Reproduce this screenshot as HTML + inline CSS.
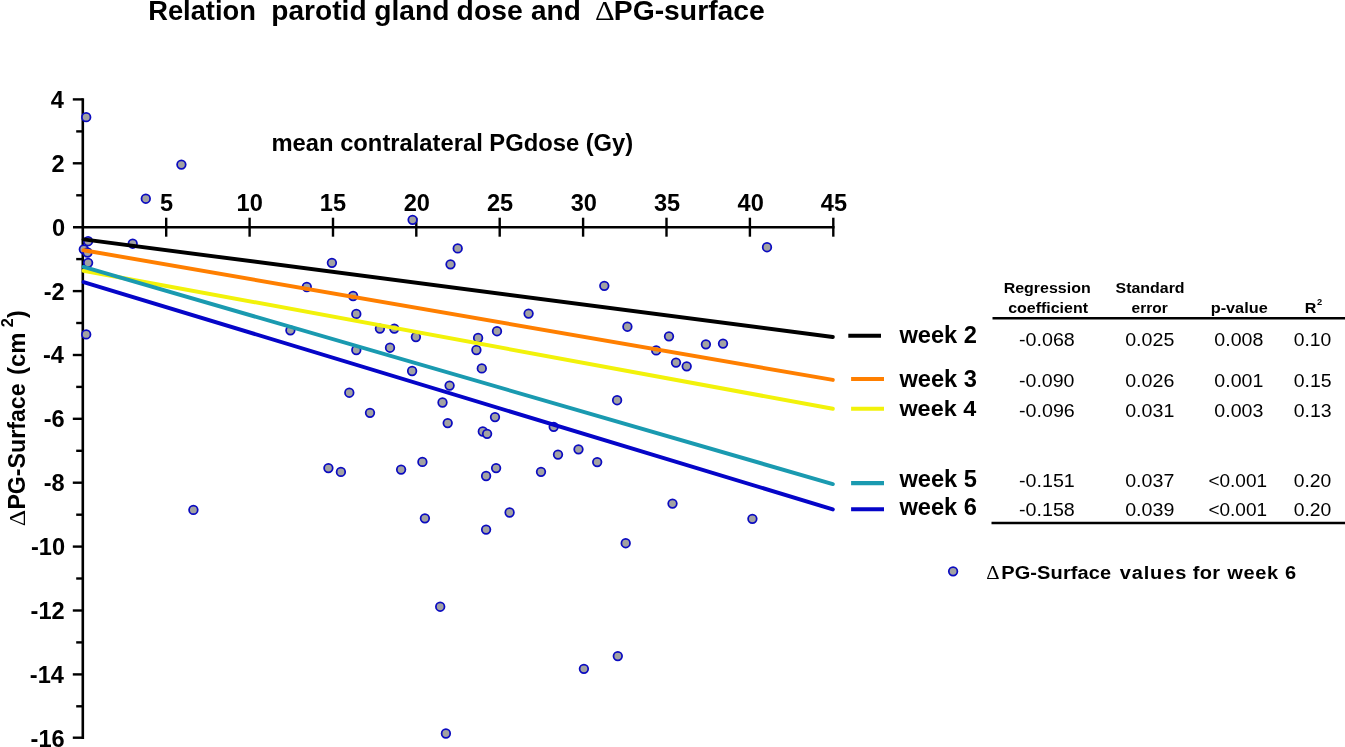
<!DOCTYPE html>
<html><head><meta charset="utf-8"><title>Relation parotid gland dose and PG-surface</title>
<style>
html,body{margin:0;padding:0;background:#fff;}
body{width:1345px;height:747px;overflow:hidden;font-family:"Liberation Sans",sans-serif;}
svg{display:block;position:absolute;left:0;top:0;will-change:transform;}
text{font-family:"Liberation Sans",sans-serif;font-weight:bold;fill:#000;}
.sym{font-family:"Liberation Serif",serif;font-weight:normal;}
.n{font-weight:normal;}
.ax{stroke:#000;stroke-width:2.6;fill:none;}
.tk{stroke:#000;stroke-width:2.4;fill:none;}
.pt{fill:#a2a2a2;stroke:#0b0bc0;stroke-width:1.75;}
.rl{fill:none;stroke-width:3.95;stroke-linecap:round;}
</style></head><body>
<svg width="1345" height="747" viewBox="0 0 1345 747">
<rect x="0" y="0" width="1345" height="747" fill="#ffffff"/>
<g id="axes">
<line class="ax" x1="82.8" y1="98.2" x2="82.8" y2="738.9"/>
<line class="ax" x1="73.0" y1="227.2" x2="834.5" y2="227.2"/>
<line class="tk" x1="72.8" y1="99.4" x2="82.8" y2="99.4"/>
<line class="tk" x1="76.2" y1="131.4" x2="82.8" y2="131.4"/>
<line class="tk" x1="72.8" y1="163.3" x2="82.8" y2="163.3"/>
<line class="tk" x1="76.2" y1="195.3" x2="82.8" y2="195.3"/>
<line class="tk" x1="76.2" y1="259.1" x2="82.8" y2="259.1"/>
<line class="tk" x1="72.8" y1="291.1" x2="82.8" y2="291.1"/>
<line class="tk" x1="76.2" y1="323.0" x2="82.8" y2="323.0"/>
<line class="tk" x1="72.8" y1="355.0" x2="82.8" y2="355.0"/>
<line class="tk" x1="76.2" y1="386.9" x2="82.8" y2="386.9"/>
<line class="tk" x1="72.8" y1="418.8" x2="82.8" y2="418.8"/>
<line class="tk" x1="76.2" y1="450.8" x2="82.8" y2="450.8"/>
<line class="tk" x1="72.8" y1="482.7" x2="82.8" y2="482.7"/>
<line class="tk" x1="76.2" y1="514.7" x2="82.8" y2="514.7"/>
<line class="tk" x1="72.8" y1="546.6" x2="82.8" y2="546.6"/>
<line class="tk" x1="76.2" y1="578.5" x2="82.8" y2="578.5"/>
<line class="tk" x1="72.8" y1="610.5" x2="82.8" y2="610.5"/>
<line class="tk" x1="76.2" y1="642.4" x2="82.8" y2="642.4"/>
<line class="tk" x1="72.8" y1="674.4" x2="82.8" y2="674.4"/>
<line class="tk" x1="76.2" y1="706.3" x2="82.8" y2="706.3"/>
<line class="tk" x1="72.8" y1="737.7" x2="82.8" y2="737.7"/>
<line class="tk" x1="166.2" y1="217.7" x2="166.2" y2="236.7"/>
<line class="tk" x1="249.6" y1="217.7" x2="249.6" y2="236.7"/>
<line class="tk" x1="333.0" y1="217.7" x2="333.0" y2="236.7"/>
<line class="tk" x1="416.3" y1="217.7" x2="416.3" y2="236.7"/>
<line class="tk" x1="499.7" y1="217.7" x2="499.7" y2="236.7"/>
<line class="tk" x1="583.1" y1="217.7" x2="583.1" y2="236.7"/>
<line class="tk" x1="666.5" y1="217.7" x2="666.5" y2="236.7"/>
<line class="tk" x1="749.9" y1="217.7" x2="749.9" y2="236.7"/>
<line class="tk" x1="833.3" y1="217.7" x2="833.3" y2="236.7"/>
</g>
<g id="points" class="pt">
<circle cx="86.2" cy="117.2" r="4.3"/>
<circle cx="181.4" cy="164.6" r="4.3"/>
<circle cx="145.8" cy="198.7" r="4.3"/>
<circle cx="412.6" cy="219.8" r="4.3"/>
<circle cx="88.1" cy="241.2" r="4.3"/>
<circle cx="132.7" cy="243.7" r="4.3"/>
<circle cx="83.8" cy="249.3" r="4.3"/>
<circle cx="87.5" cy="252.5" r="4.3"/>
<circle cx="88.1" cy="262.8" r="4.3"/>
<circle cx="86.2" cy="334.4" r="4.3"/>
<circle cx="290.4" cy="330.3" r="4.3"/>
<circle cx="306.8" cy="287.0" r="4.3"/>
<circle cx="457.7" cy="248.4" r="4.3"/>
<circle cx="450.5" cy="264.3" r="4.3"/>
<circle cx="331.9" cy="262.8" r="4.3"/>
<circle cx="353.1" cy="296.0" r="4.3"/>
<circle cx="356.3" cy="313.9" r="4.3"/>
<circle cx="379.9" cy="328.6" r="4.3"/>
<circle cx="394.3" cy="328.6" r="4.3"/>
<circle cx="415.9" cy="337.0" r="4.3"/>
<circle cx="478.1" cy="338.0" r="4.3"/>
<circle cx="497.0" cy="331.2" r="4.3"/>
<circle cx="528.6" cy="313.6" r="4.3"/>
<circle cx="476.4" cy="350.0" r="4.3"/>
<circle cx="390.0" cy="347.7" r="4.3"/>
<circle cx="356.3" cy="350.0" r="4.3"/>
<circle cx="412.1" cy="371.0" r="4.3"/>
<circle cx="481.8" cy="368.4" r="4.3"/>
<circle cx="449.6" cy="385.6" r="4.3"/>
<circle cx="349.3" cy="392.7" r="4.3"/>
<circle cx="442.5" cy="402.5" r="4.3"/>
<circle cx="370.0" cy="412.8" r="4.3"/>
<circle cx="495.0" cy="417.1" r="4.3"/>
<circle cx="447.7" cy="423.1" r="4.3"/>
<circle cx="482.8" cy="431.5" r="4.3"/>
<circle cx="487.1" cy="433.8" r="4.3"/>
<circle cx="328.4" cy="468.1" r="4.3"/>
<circle cx="340.9" cy="471.9" r="4.3"/>
<circle cx="401.1" cy="469.6" r="4.3"/>
<circle cx="422.4" cy="461.9" r="4.3"/>
<circle cx="496.1" cy="468.1" r="4.3"/>
<circle cx="486.1" cy="476.0" r="4.3"/>
<circle cx="424.9" cy="518.3" r="4.3"/>
<circle cx="509.6" cy="512.5" r="4.3"/>
<circle cx="486.1" cy="529.6" r="4.3"/>
<circle cx="440.2" cy="606.7" r="4.3"/>
<circle cx="445.9" cy="733.5" r="4.3"/>
<circle cx="767.0" cy="247.2" r="4.3"/>
<circle cx="604.3" cy="285.8" r="4.3"/>
<circle cx="627.4" cy="326.7" r="4.3"/>
<circle cx="669.0" cy="336.3" r="4.3"/>
<circle cx="656.2" cy="350.4" r="4.3"/>
<circle cx="705.9" cy="344.3" r="4.3"/>
<circle cx="723.0" cy="343.6" r="4.3"/>
<circle cx="676.0" cy="362.6" r="4.3"/>
<circle cx="686.7" cy="366.3" r="4.3"/>
<circle cx="617.1" cy="400.2" r="4.3"/>
<circle cx="553.7" cy="426.8" r="4.3"/>
<circle cx="578.5" cy="449.3" r="4.3"/>
<circle cx="558.0" cy="454.6" r="4.3"/>
<circle cx="597.2" cy="462.1" r="4.3"/>
<circle cx="541.0" cy="471.8" r="4.3"/>
<circle cx="672.5" cy="503.6" r="4.3"/>
<circle cx="752.4" cy="518.8" r="4.3"/>
<circle cx="625.7" cy="543.2" r="4.3"/>
<circle cx="617.8" cy="656.1" r="4.3"/>
<circle cx="583.9" cy="668.8" r="4.3"/>
<circle cx="193.4" cy="509.9" r="4.3"/>
</g>
<g id="reglines" class="rl">
<line x1="83.6" y1="239.4" x2="832.8" y2="337.0" stroke="#000000"/>
<line x1="83.6" y1="250.2" x2="832.8" y2="379.9" stroke="#ff7f00"/>
<line x1="83.6" y1="270.7" x2="832.8" y2="408.8" stroke="#f2f20a"/>
<line x1="83.6" y1="266.9" x2="832.8" y2="484.1" stroke="#1a9ab0"/>
<line x1="83.6" y1="282.1" x2="832.8" y2="509.4" stroke="#0505c8"/>
</g>
<g id="legend" fill="none" stroke-width="4.1" stroke-linecap="butt">
<line x1="848.3" y1="335.7" x2="881.0" y2="335.7" stroke="#000000"/>
<line x1="851.1" y1="379.0" x2="884.0" y2="379.0" stroke="#ff7f00"/>
<line x1="851.1" y1="408.8" x2="884.0" y2="408.8" stroke="#f2f20a"/>
<line x1="851.1" y1="483.1" x2="884.0" y2="483.1" stroke="#1a9ab0"/>
<line x1="851.1" y1="509.2" x2="884.0" y2="509.2" stroke="#0505c8"/>
</g>
<g id="table">
<line x1="992.5" y1="318.3" x2="1345" y2="318.3" stroke="#000" stroke-width="2.6"/>
<line x1="991.5" y1="523" x2="1345" y2="523" stroke="#000" stroke-width="2.6"/>
</g>
<circle class="pt" cx="953.1" cy="571.3" r="4.3"/>
<g id="labels">
<text transform="translate(148.2,20.4)" font-size="27.3">Relation</text>
<text transform="translate(271.3,20.4) scale(1.030,1)" font-size="27.3">parotid</text>
<text transform="translate(374.3,20.4) scale(1.033,1)" font-size="27.3">gland</text>
<text transform="translate(456.6,20.4) scale(1.037,1)" font-size="27.3">dose</text>
<text transform="translate(531.0,20.4) scale(1.025,1)" font-size="27.3">and</text>
<text transform="translate(595.1,20.4) scale(1.121,1)" font-size="27.3" class="sym">Δ</text>
<text transform="translate(613.8,20.4) scale(1.037,1)" font-size="27.3">PG-surface</text>
<text transform="translate(271.5,151.3) scale(1.029,1)" font-size="23.1">mean contralateral PGdose (Gy)</text>
<text transform="translate(50.8,107.9)" font-size="23.6">4</text>
<text transform="translate(51.6,171.8)" font-size="23.6">2</text>
<text transform="translate(51.9,235.6)" font-size="23.6">0</text>
<text transform="translate(43.7,299.5)" font-size="23.6">-2</text>
<text transform="translate(43.0,363.4)" font-size="23.6">-4</text>
<text transform="translate(43.7,427.3)" font-size="23.6">-6</text>
<text transform="translate(43.7,491.2)" font-size="23.6">-8</text>
<text transform="translate(30.9,555.1)" font-size="23.6">-10</text>
<text transform="translate(30.6,618.9)" font-size="23.6">-12</text>
<text transform="translate(29.8,682.8)" font-size="23.6">-14</text>
<text transform="translate(30.6,746.7)" font-size="23.6">-16</text>
<text transform="translate(160.1,210.8) scale(1.025,1)" font-size="23.0">5</text>
<text transform="translate(236.6,210.8) scale(1.025,1)" font-size="23.0">10</text>
<text transform="translate(319.8,210.8) scale(1.025,1)" font-size="23.0">15</text>
<text transform="translate(403.7,210.8) scale(1.025,1)" font-size="23.0">20</text>
<text transform="translate(486.9,210.8) scale(1.025,1)" font-size="23.0">25</text>
<text transform="translate(570.7,210.8) scale(1.025,1)" font-size="23.0">30</text>
<text transform="translate(653.9,210.8) scale(1.025,1)" font-size="23.0">35</text>
<text transform="translate(737.6,210.8) scale(1.025,1)" font-size="23.0">40</text>
<text transform="translate(820.8,210.8) scale(1.025,1)" font-size="23.0">45</text>
<text transform="translate(899.4,342.5) scale(1.029,1)" font-size="23.0">week 2</text>
<text transform="translate(899.4,386.7) scale(1.029,1)" font-size="23.0">week 3</text>
<text transform="translate(899.4,416.1) scale(1.019,1)" font-size="23.0">week 4</text>
<text transform="translate(899.4,486.9) scale(1.029,1)" font-size="23.0">week 5</text>
<text transform="translate(899.4,515.3) scale(1.029,1)" font-size="23.0">week 6</text>
<text transform="translate(1003.7,293.4) scale(1.094,1)" font-size="14.6">Regression</text>
<text transform="translate(1008.2,312.9) scale(1.093,1)" font-size="14.6">coefficient</text>
<text transform="translate(1115.5,293.4) scale(1.093,1)" font-size="14.6">Standard</text>
<text transform="translate(1131.6,312.9) scale(1.059,1)" font-size="14.6">error</text>
<text transform="translate(1210.7,312.9) scale(1.116,1)" font-size="14.6">p-value</text>
<text transform="translate(1304.7,312.9) scale(1.101,1)" font-size="14.6">R</text>
<text transform="translate(1317.1,304.9) scale(1.080,1)" font-size="8.6">2</text>
<text transform="translate(1019.0,345.6) scale(1.064,1)" font-size="18.5" class="n">-0.068</text>
<text transform="translate(1125.2,345.6) scale(1.061,1)" font-size="18.5" class="n">0.025</text>
<text transform="translate(1214.3,345.6) scale(1.059,1)" font-size="18.5" class="n">0.008</text>
<text transform="translate(1293.7,345.6) scale(1.044,1)" font-size="18.5" class="n">0.10</text>
<text transform="translate(1019.0,387.3) scale(1.058,1)" font-size="18.5" class="n">-0.090</text>
<text transform="translate(1125.2,387.3) scale(1.061,1)" font-size="18.5" class="n">0.026</text>
<text transform="translate(1214.3,387.3) scale(1.059,1)" font-size="18.5" class="n">0.001</text>
<text transform="translate(1293.7,387.3) scale(1.053,1)" font-size="18.5" class="n">0.15</text>
<text transform="translate(1019.0,416.6) scale(1.064,1)" font-size="18.5" class="n">-0.096</text>
<text transform="translate(1125.2,416.6) scale(1.061,1)" font-size="18.5" class="n">0.031</text>
<text transform="translate(1214.3,416.6) scale(1.059,1)" font-size="18.5" class="n">0.003</text>
<text transform="translate(1293.7,416.6) scale(1.053,1)" font-size="18.5" class="n">0.13</text>
<text transform="translate(1019.0,487.3) scale(1.064,1)" font-size="18.5" class="n">-0.151</text>
<text transform="translate(1125.2,487.3) scale(1.061,1)" font-size="18.5" class="n">0.037</text>
<text transform="translate(1208.4,487.3) scale(1.027,1)" font-size="18.5" class="n">&lt;0.001</text>
<text transform="translate(1293.7,487.3) scale(1.044,1)" font-size="18.5" class="n">0.20</text>
<text transform="translate(1019.0,515.9) scale(1.064,1)" font-size="18.5" class="n">-0.158</text>
<text transform="translate(1125.2,515.9) scale(1.061,1)" font-size="18.5" class="n">0.039</text>
<text transform="translate(1208.4,515.9) scale(1.027,1)" font-size="18.5" class="n">&lt;0.001</text>
<text transform="translate(1293.7,515.9) scale(1.044,1)" font-size="18.5" class="n">0.20</text>
<text transform="translate(986.2,578.6) scale(1.100,1)" font-size="18.9" class="sym">Δ</text>
<text transform="translate(1001.2,578.6) scale(1.060,1)" font-size="18.9" letter-spacing="0.10">PG-Surface</text>
<text transform="translate(1119.8,578.6) scale(1.060,1)" font-size="18.9" letter-spacing="0.78">values</text>
<text transform="translate(1192.7,578.6) scale(1.060,1)" font-size="18.9" letter-spacing="0.33">for</text>
<text transform="translate(1227.3,578.6) scale(1.060,1)" font-size="18.9" letter-spacing="0.55">week</text>
<text transform="translate(1284.9,578.6) scale(1.060,1)" font-size="18.9">6</text>
<text transform="translate(24.9,526.3) rotate(-90) scale(1.059,1)" font-size="24" class="sym">Δ</text>
<text transform="translate(24.9,509.6) rotate(-90) scale(0.966,1)" font-size="24">PG-Surface</text>
<text transform="translate(24.9,375.0) rotate(-90) scale(0.993,1)" font-size="24">(cm</text>
<text transform="translate(13.4,327.3) rotate(-90) scale(0.982,1)" font-size="16.5">2</text>
<text transform="translate(24.9,318.1) rotate(-90) scale(0.940,1)" font-size="24">)</text>
</g>
</svg>
</body></html>
